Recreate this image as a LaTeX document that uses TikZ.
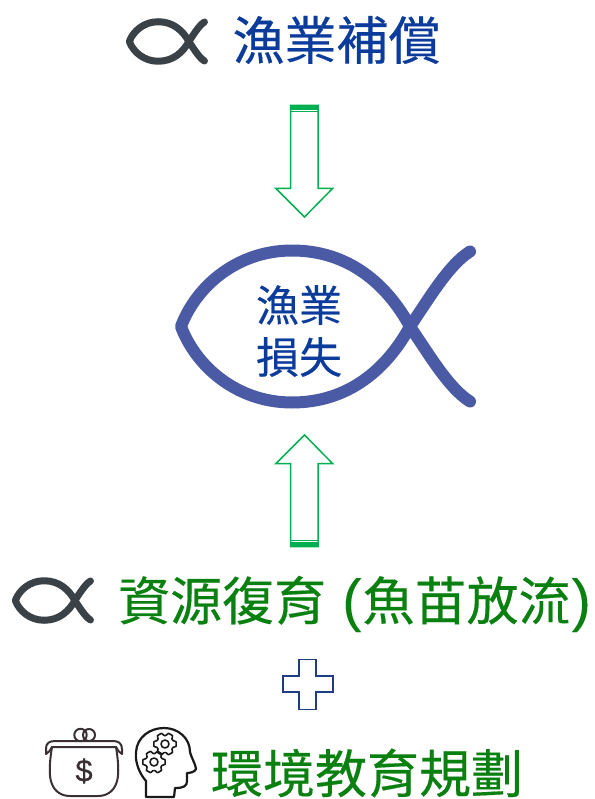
\documentclass[tikz,border=0pt]{standalone}
\usepackage{fontspec}
\newfontfamily\cjk[FakeBold=0.35]{Noto Sans CJK TC}
\newfontfamily\latn[FakeBold=0.15]{Liberation Sans}
\definecolor{txtblue}{HTML}{0B3C9C}
\definecolor{txtgreen}{HTML}{0A8010}
\definecolor{arrgreen}{HTML}{00B050}
\definecolor{fishblue}{HTML}{4A5AA5}
\definecolor{fishdark}{HTML}{3A4248}
\definecolor{plusblue}{HTML}{1F3D80}
\definecolor{iconink}{HTML}{3A3034}
\newcommand{\fishcurve}{
   (171,-75) .. controls (150,-62) and (130,-28) .. (111,0)
   .. controls (88,42) and (50,76) .. (-7,76)
   .. controls (-62,76) and (-103,40) .. (-118,0)
   .. controls (-103,-40) and (-62,-76) .. (-7,-76)
   .. controls (50,-76) and (88,-42) .. (111,0)
   .. controls (130,28) and (150,62) .. (171,75)}
\tikzset{
 x=1pt,y=-1pt,
 bigtext/.style={font=\cjk\fontsize{52}{56}\selectfont,inner sep=0pt},
 midtext/.style={font=\cjk\fontsize{43}{52}\selectfont,inner sep=0pt,align=center,text=txtblue},
 fleche/.style={draw=arrgreen,line width=1.5pt,fill=white,line join=miter},
 icon/.style={draw=iconink,line width=2pt,line join=round,line cap=round},
 headline/.style={draw=black!90,line width=2.2pt,line join=round,line cap=round},
 fishline/.style={line cap=round,line join=round},
 pics/gear/.style={code={
  \draw[headline,line width=1.6pt] (0,0) circle[radius=4];
  \draw[headline,line width=1.6pt]
   (-12:11.3) -- (12:11.3) -- (24:8.6) -- (36:8.6) -- (48:11.3) -- (72:11.3) -- (84:8.6) -- (96:8.6) -- (108:11.3) -- (132:11.3) -- (144:8.6) -- (156:8.6) -- (168:11.3) -- (192:11.3) -- (204:8.6) -- (216:8.6) -- (228:11.3) -- (252:11.3) -- (264:8.6) -- (276:8.6) -- (288:11.3) -- (312:11.3) -- (324:8.6) -- (336:8.6) -- cycle;
 }},
}
\begin{document}
\begin{tikzpicture}
\useasboundingbox (0,0) rectangle (594,799);
% small fish icons
\draw[fishline,draw=fishdark,line width=7pt,shift={(160,41.5)},scale=.26] \fishcurve;
\draw[fishline,draw=fishdark,line width=7pt,shift={(46,600.5)},scale=.26] \fishcurve;
% big fish
\draw[fishline,draw=fishblue,line width=12pt,shift={(299,326.5)}] \fishcurve;
% labels
\node[bigtext,text=txtblue,anchor=center] (comp) at (336.5,40) {漁業補償};
\node[midtext] (loss) at (299,331) {漁業\\損失};
\node[bigtext,text=txtgreen,anchor=center] (stock) at (354.5,604) {資源復育{\latn\fontsize{58}{58}\selectfont\ (}\hspace{1pt}魚苗放流\hspace{1pt}{\latn\fontsize{58}{58}\selectfont )}};
\node[bigtext,text=txtgreen,anchor=center] (edu) at (367,773) {環境教育規劃};
% down arrow
\draw[fleche] (290.5,105.5) -- (318,105.5) -- (318,188.5) -- (332.5,188.5) -- (304.5,217) -- (276,188.5) -- (290.5,188.5) -- cycle;
\fill[arrgreen] (290,105) rectangle (319,110);
\draw[arrgreen,line width=1pt] (290,112) -- (319,112);
% up arrow
\draw[fleche] (290.5,546.5) -- (318,546.5) -- (318,463.5) -- (332.5,463.5) -- (304.5,435) -- (276,463.5) -- (290.5,463.5) -- cycle;
\fill[arrgreen] (290,542) rectangle (319,547);
\draw[arrgreen,line width=1pt] (290,540) -- (319,540);
% plus
\draw[draw=plusblue,line width=1.5pt,line join=miter]
 (299,659.5) -- (316,659.5) -- (316,676) -- (333,676) -- (333,692) -- (316,692) -- (316,709.5) -- (299,709.5) -- (299,692) -- (283,692) -- (283,676) -- (299,676) -- cycle;
% wallet
\draw[icon] (80.5,735) circle[radius=6.2];
\draw[icon] (89,735) circle[radius=6];
\draw[icon] (46,754) -- (46,748) .. controls (46,743) and (50,741) .. (55,741) -- (113,741) .. controls (118,741) and (122,743) .. (122,749) -- (122,754) .. controls (119,753) and (118,750) .. (116,747) -- (52,747) .. controls (50,750) and (49,753) .. (46,754) -- cycle;
\draw[icon] (52,747) .. controls (49,765) and (49,778) .. (52,784) .. controls (55,792) and (62,796) .. (70,796) -- (98,796) .. controls (106,796) and (113,792) .. (116,784) .. controls (119,778) and (119,765) .. (116,747);
\node[font=\latn\fontsize{31}{31}\selectfont,text=iconink,inner sep=0pt] (dollar) at (84,771) {\$};
% head
\draw[headline] (146,797) -- (146,781) .. controls (139,773) and (135,762) .. (136,752) .. controls (137,737) and (150,728) .. (164,728) .. controls (178,728) and (190,738) .. (190,752) .. controls (191,757) and (196,765) .. (196,769) .. controls (195,772) and (190,773) .. (187,773) -- (187,781) .. controls (187,786) and (184,788) .. (175,788) -- (174,797) -- cycle;
\pic at (165,744) {gear};
\pic at (154,762) {gear};
\end{tikzpicture}
\end{document}
